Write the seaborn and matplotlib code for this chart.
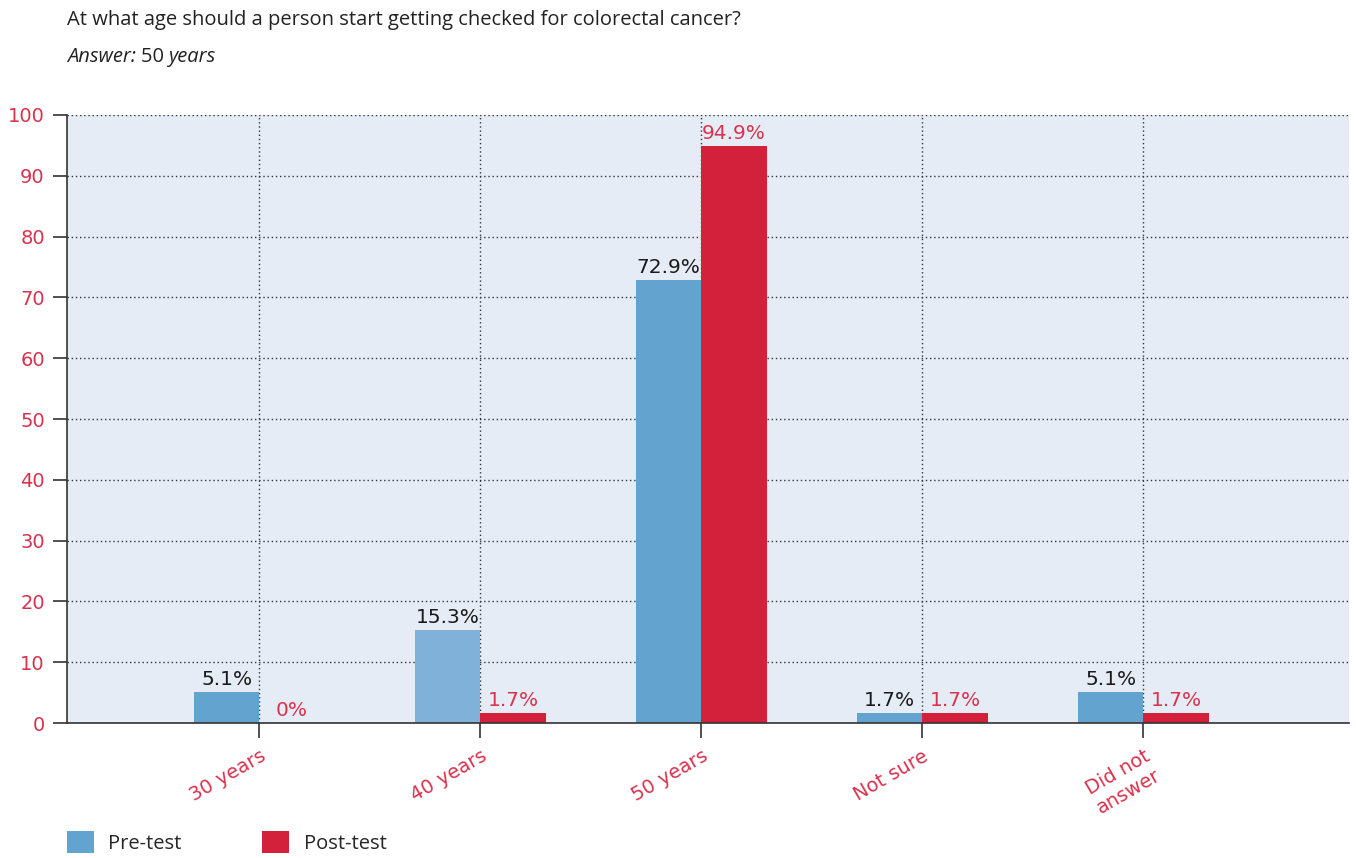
import matplotlib.pyplot as plt
import pandas as pd
import seaborn as sns

# values
answers = ['30 years', '40 years', '50 years', 'Not sure', 'Did not\nanswer']
pre_test = [5.1, 15.3, 72.9, 1.7, 5.1]
post_test = [0, 1.7, 94.9, 1.7, 1.7]
series = ['Pre-test', 'Post-test']

blue = '#62A3D0'
red = '#D3213C'
label_red = '#D8334E'

data = pd.DataFrame({
    'answer': answers * 2,
    'pct': pre_test + post_test,
    'test': [series[0]] * len(answers) + [series[1]] * len(answers),
})

sns.set_style('white')
plt.rcParams['font.family'] = ['DejaVu Sans']

fig = plt.figure(figsize=(13.56, 8.58), dpi=100, facecolor='white')
ax = fig.add_axes([0.0494, 0.1573, 0.9454, 0.7087])
ax.set_facecolor('#E6ECF6')

sns.barplot(data=data, x='answer', y='pct', hue='test', palette=[blue, red],
            width=0.59, saturation=1, order=answers, hue_order=series,
            linewidth=0, ax=ax)

# the 40 years pre-test bar is drawn a touch lighter in the original
ax.containers[0][1].set_facecolor('#80B1D9')

ax.bar_label(ax.containers[0], labels=['%g%%' % v for v in pre_test],
             padding=2, fontsize=14.5, color='#1a1a1a')
ax.bar_label(ax.containers[1], labels=['%g%%' % v for v in post_test],
             padding=2, fontsize=14.5, color=label_red)

ax.set_ylim(0, 100)
ax.set_xlim(-0.87, 4.93)
ax.set_yticks(range(0, 101, 10))
ax.set_xlabel('')
ax.set_ylabel('')

ax.grid(True, axis='both', linestyle=(0, (1, 2)), color='#333333', linewidth=1)
ax.set_axisbelow(True)

for side in ['top', 'right']:
    ax.spines[side].set_visible(False)
for side in ['left', 'bottom']:
    ax.spines[side].set_color('#333333')
    ax.spines[side].set_linewidth(1.2)

ax.tick_params(axis='y', direction='out', length=10, width=1.2, color='#333333',
               labelsize=14, labelcolor=label_red, left=True, pad=6)
ax.tick_params(axis='x', direction='out', length=11, width=1.2, color='#333333',
               labelsize=14, labelcolor=label_red, bottom=True, pad=6)
for label in ax.get_xticklabels():
    label.set_rotation(30)
    label.set_ha('right')
    label.set_rotation_mode('anchor')
    label.set_multialignment('center')

handles, labels = ax.get_legend_handles_labels()
ax.legend_.remove()
fig.legend(handles, labels, loc='lower left', bbox_to_anchor=(67 / 1356, 0.005),
           ncol=2, frameon=False, handlelength=1.35, handleheight=1.35,
           handletextpad=0.7, columnspacing=4.0, borderpad=0, borderaxespad=0,
           prop={'family': 'Open Sans', 'size': 14.5})

title_font = {'family': 'Open Sans', 'size': 14.5, 'color': '#222222'}
fig.text(0.0494, 1 - 20 / 858, 'At what age should a person start getting checked for colorectal cancer?',
         va='center', **title_font)

# "Answer: 50 years" with only the number upright
fig.canvas.draw()
renderer = fig.canvas.get_renderer()
x = 0.0494
y = 1 - 57 / 858
for part, style in [('Answer: ', 'italic'), ('50 ', 'normal'), ('years', 'italic')]:
    t = fig.text(x, y, part, va='center', style=style, **title_font)
    bb = t.get_window_extent(renderer=renderer)
    x = bb.x1 / fig.bbox.width

fig.savefig('out.png', dpi=100, facecolor='white')
